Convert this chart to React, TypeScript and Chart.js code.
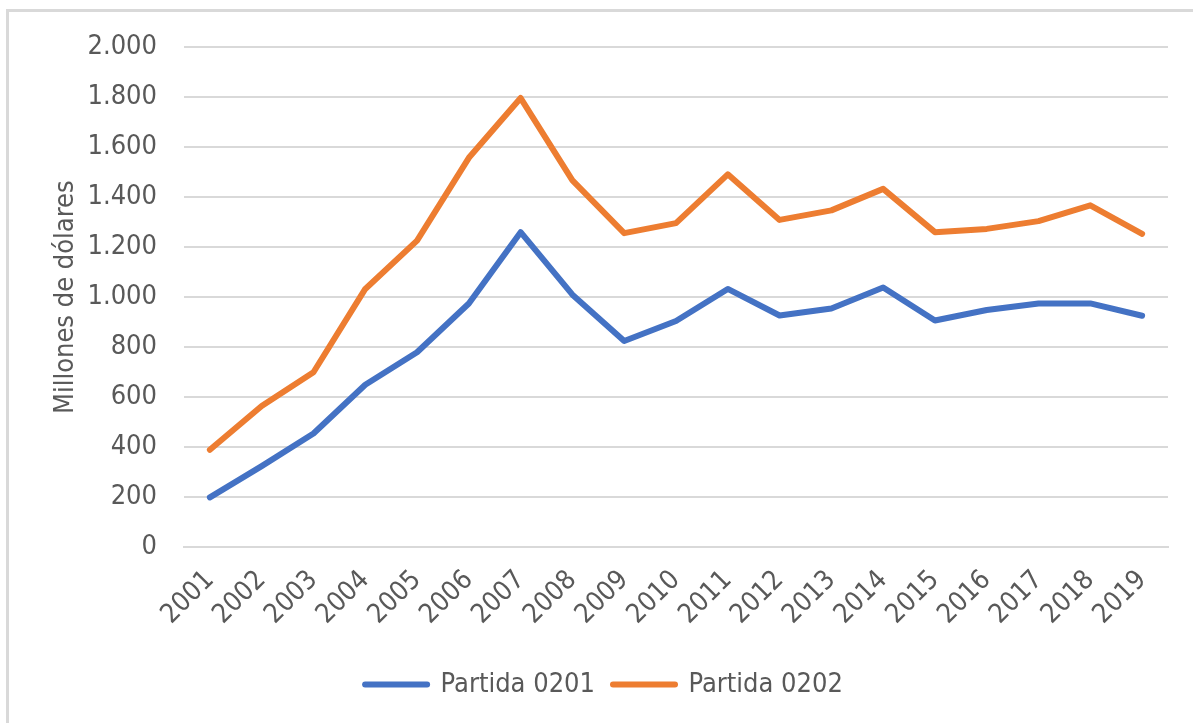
import React, { useEffect, useRef } from "react";
import { Chart, registerables } from "chart.js";

Chart.register(...registerables);

const years = ["2001","2002","2003","2004","2005","2006","2007","2008","2009","2010","2011","2012","2013","2014","2015","2016","2017","2018","2019"];
const partida0201 = [200, 325, 455, 650, 780, 975, 1260, 1010, 825, 905, 1033, 927, 955, 1039, 907, 949, 975, 975, 926];
const partida0202 = [390, 565, 700, 1033, 1226, 1557, 1796, 1467, 1256, 1296, 1491, 1309, 1347, 1433, 1260, 1273, 1304, 1367, 1253];
const seriesNames = ["Partida 0201", "Partida 0202"];
const yTicks = [0, 200, 400, 600, 800, 1000, 1200, 1400, 1600, 1800, 2000];

const FONT = "'Liberation Sans Narrow', 'DejaVu Sans Condensed', 'Roboto Condensed', Roboto, sans-serif";
const TEXT = "#595959";

export default function App() {
  const ref = useRef<HTMLCanvasElement | null>(null);
  useEffect(() => {
    if (!ref.current) return;
    const chart = new Chart(ref.current, {
      type: "line",
      data: {
        labels: years,
        datasets: [
          { label: seriesNames[0], data: partida0201, borderColor: "#4472C4", backgroundColor: "#4472C4", borderWidth: 6, pointRadius: 0, tension: 0, borderJoinStyle: "round", borderCapStyle: "round" },
          { label: seriesNames[1], data: partida0202, borderColor: "#ED7D31", backgroundColor: "#ED7D31", borderWidth: 6, pointRadius: 0, tension: 0, borderJoinStyle: "round", borderCapStyle: "round" },
        ],
      },
      options: {
        animation: false,
        responsive: false,
        maintainAspectRatio: false,
        layout: { padding: { left: 40, right: 25, top: 47, bottom: 15 } },
        plugins: {
          tooltip: { enabled: false },
          legend: {
            position: "bottom",
            labels: {
              color: TEXT,
              font: { family: FONT, size: 27 },
              usePointStyle: true,
              pointStyle: "line",
              pointStyleWidth: 62,
              boxHeight: 6,
              padding: 18,
              generateLabels: (c: any) =>
                c.data.datasets.map((d: any, i: number) => ({
                  text: d.label,
                  fillStyle: d.borderColor,
                  strokeStyle: d.borderColor,
                  lineWidth: 6,
                  lineCap: "round",
                  pointStyle: "line",
                  fontColor: TEXT,
                  hidden: false,
                  datasetIndex: i,
                })),
            },
          },
        },
        scales: {
          x: {
            offset: true,
            afterFit: (axis: any) => { axis.height += 5; },
            grid: { display: false, drawTicks: false },
            border: { display: true, color: "#d9d9d9", width: 2 },
            ticks: {
              color: TEXT,
              font: { family: FONT, size: 27 },
              minRotation: 45,
              maxRotation: 45,
              autoSkip: false,
              padding: 17,
            },
          },
          y: {
            min: 0,
            max: 2000,
            afterBuildTicks: (axis: any) => { axis.ticks = yTicks.map((v) => ({ value: v })); },
            afterFit: (axis: any) => { axis.width = 144; },
            grid: { color: "#d9d9d9", lineWidth: 2, drawTicks: false },
            border: { display: false },
            ticks: {
              color: TEXT,
              font: { family: FONT, size: 27 },
              padding: 27,
              callback: (v: any) => Number(v).toLocaleString("de-DE"),
            },
            title: {
              display: true,
              text: "Millones de dólares",
              color: TEXT,
              font: { family: FONT, size: 27 },
              padding: { top: 10, bottom: 10 },
            },
          },
        },
      },
    });
    return () => chart.destroy();
  }, []);
  return (
    <div style={{ position: "fixed", left: 0, top: 0, width: 1193, height: 723, background: "#fff" }}>
      <div style={{ position: "absolute", left: 6, top: 9, width: 1300, height: 800, borderLeft: "3px solid #d9d9d9", borderTop: "3px solid #d9d9d9", boxSizing: "border-box" }} />
      <canvas ref={ref} width={1193} height={723} style={{ position: "absolute", left: 0, top: 0, width: 1193, height: 723 }} />
    </div>
  );
}
